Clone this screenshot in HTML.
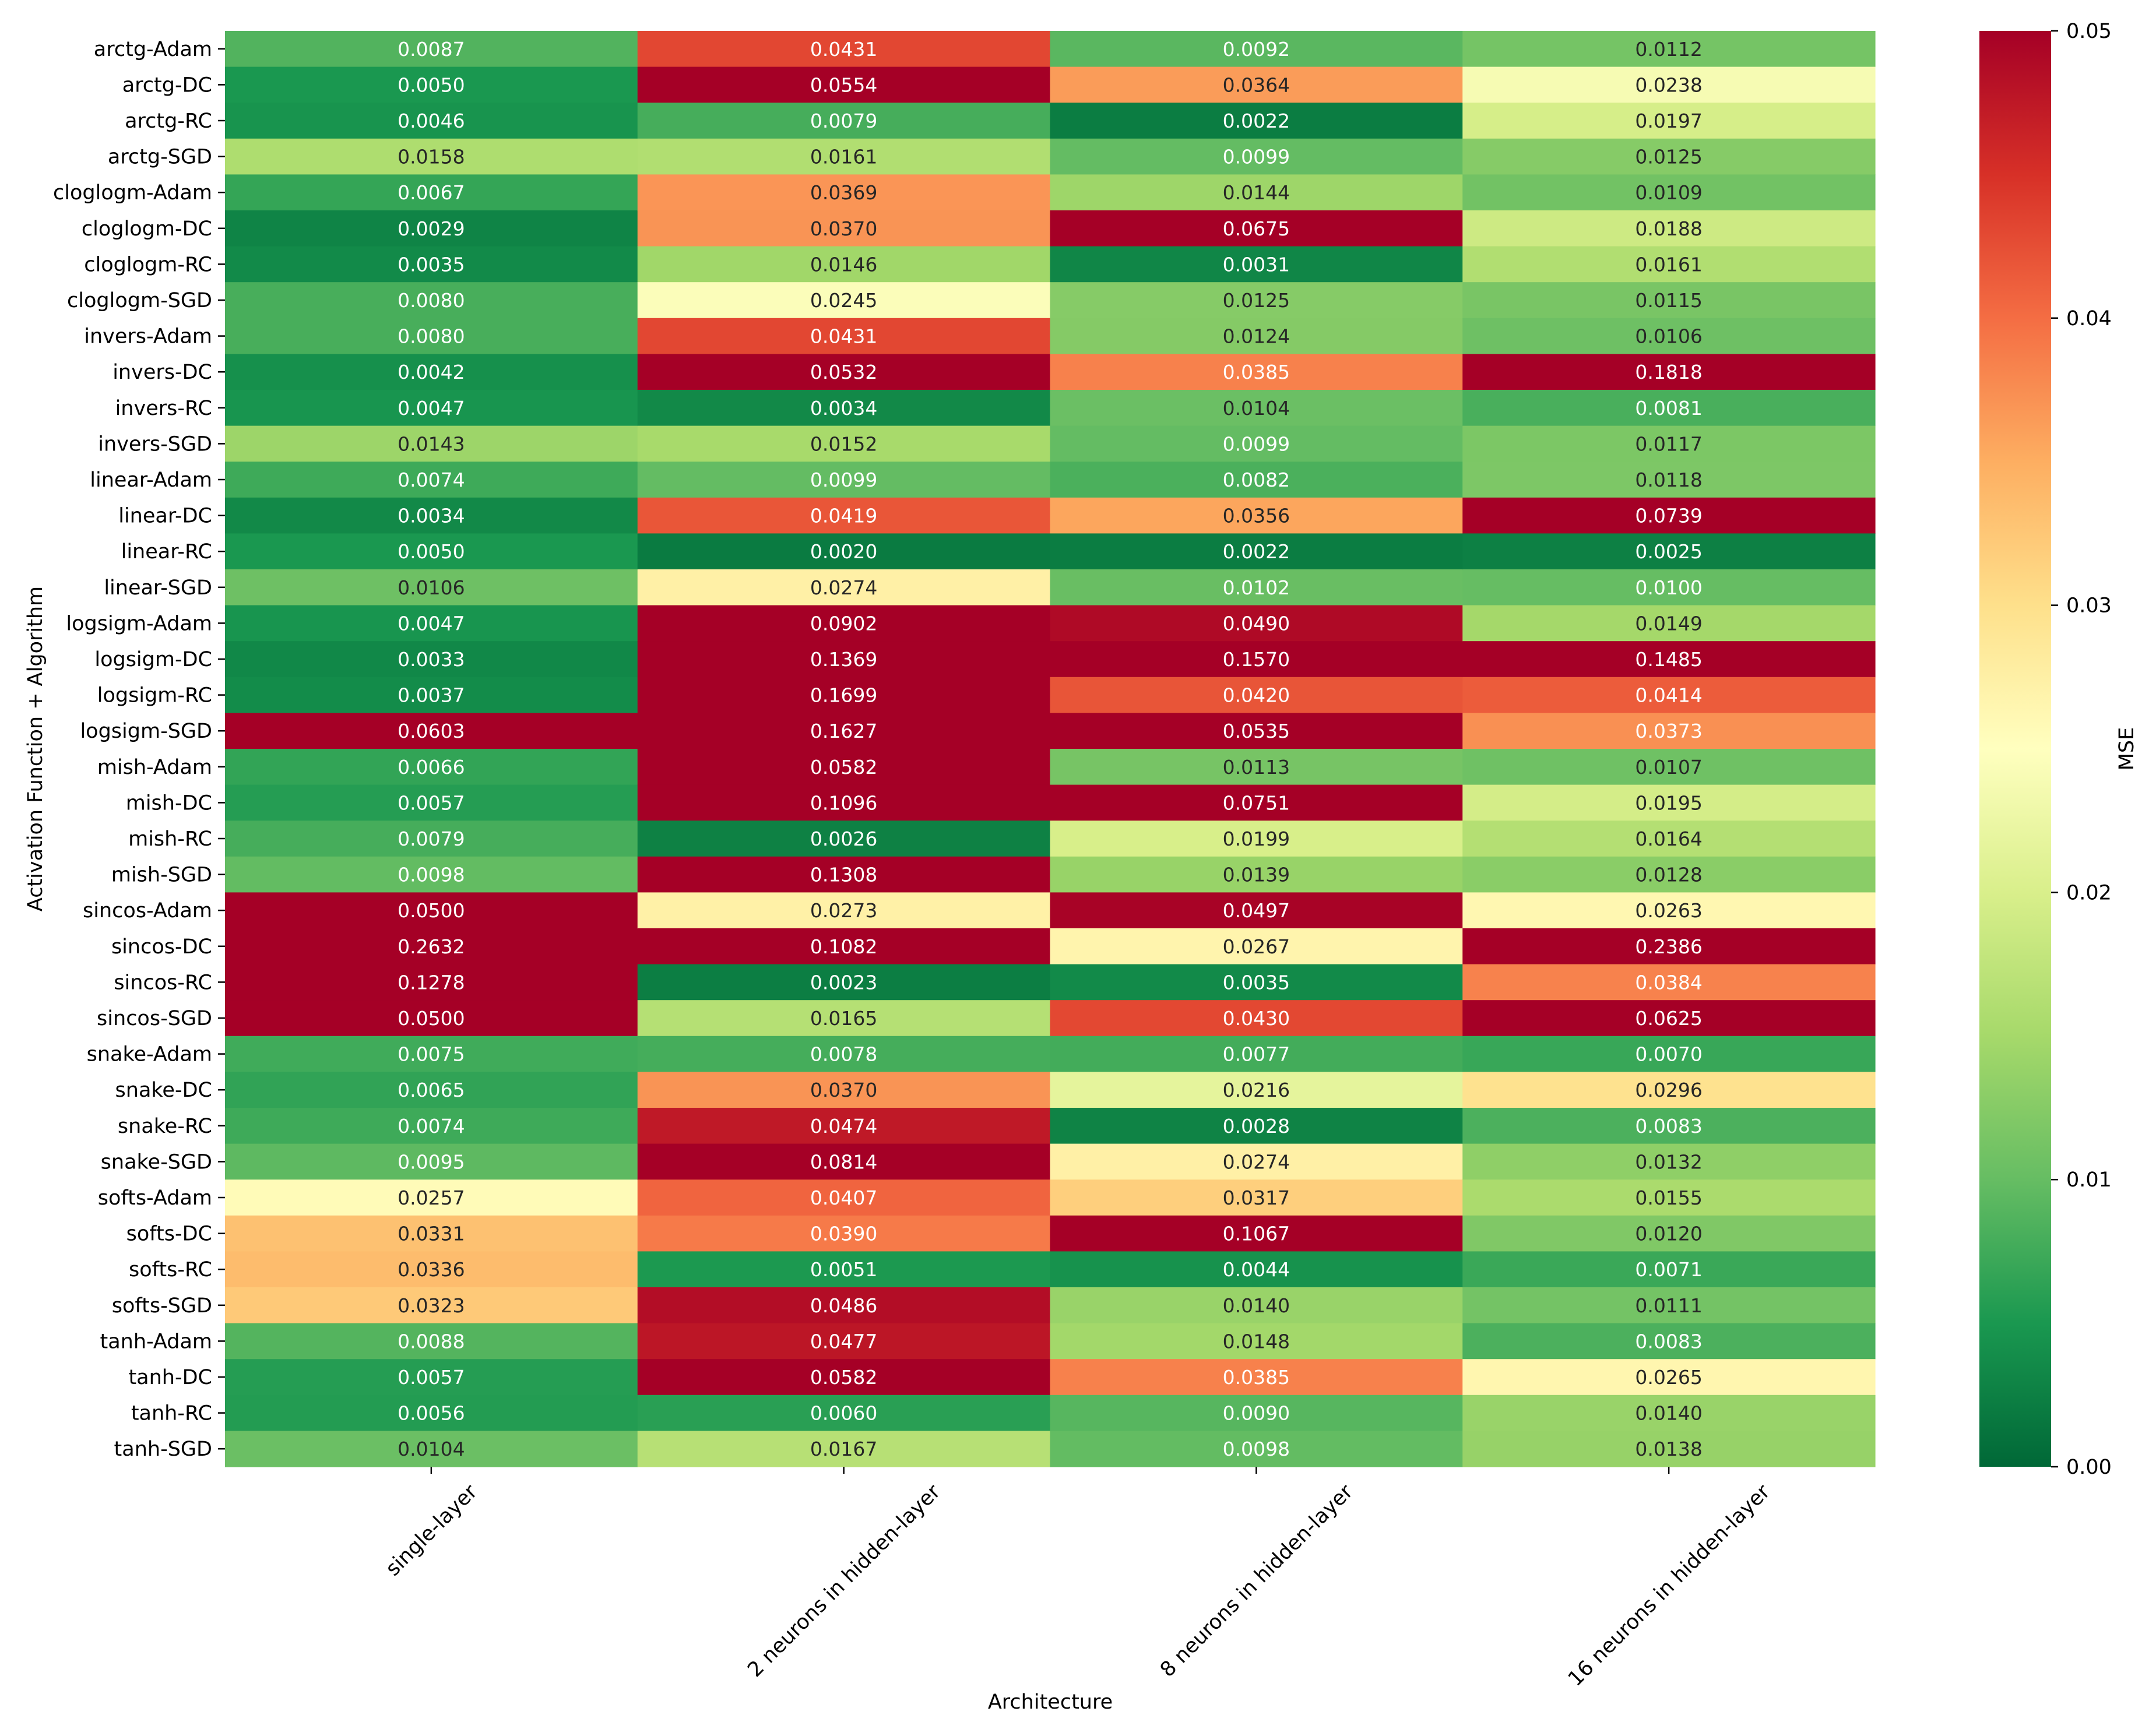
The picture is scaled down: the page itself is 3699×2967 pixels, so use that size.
<!DOCTYPE html>
<html><head><meta charset="utf-8"><style>
html,body{margin:0;padding:0;background:#fff;}
svg{display:block;font-family:"DejaVu Sans","Liberation Sans",sans-serif;}
</style></head><body>
<svg id="chart" width="3699" height="2967" viewBox="0 0 3699 2967" xmlns="http://www.w3.org/2000/svg">
<defs>
<linearGradient id="cbgrad" x1="0" y1="1" x2="0" y2="0">
<stop offset="0" stop-color="#006837"/><stop offset="0.1" stop-color="#1a9850"/><stop offset="0.2" stop-color="#66bd63"/><stop offset="0.3" stop-color="#a6d96a"/><stop offset="0.4" stop-color="#d9ef8b"/><stop offset="0.5" stop-color="#ffffbf"/><stop offset="0.6" stop-color="#fee08b"/><stop offset="0.7" stop-color="#fdae61"/><stop offset="0.8" stop-color="#f46d43"/><stop offset="0.9" stop-color="#d73027"/><stop offset="1" stop-color="#a50026"/>
</linearGradient>
</defs>
<g id="cells"></g>
<g id="yaxis"></g>
<g id="xaxis"></g>
<g id="cbar"></g>
<text x="0" y="0" font-size="35" text-anchor="middle" transform="translate(72,1285) rotate(-90)">Activation Function + Algorithm</text>
<text x="1802" y="2932" font-size="35" text-anchor="middle">Architecture</text>
<text x="0" y="0" font-size="35" text-anchor="middle" transform="translate(3660,1285) rotate(-90)">MSE</text>
</svg>
<script>
const rowLabels = ["arctg-Adam","arctg-DC","arctg-RC","arctg-SGD","cloglogm-Adam","cloglogm-DC","cloglogm-RC","cloglogm-SGD","invers-Adam","invers-DC","invers-RC","invers-SGD","linear-Adam","linear-DC","linear-RC","linear-SGD","logsigm-Adam","logsigm-DC","logsigm-RC","logsigm-SGD","mish-Adam","mish-DC","mish-RC","mish-SGD","sincos-Adam","sincos-DC","sincos-RC","sincos-SGD","snake-Adam","snake-DC","snake-RC","snake-SGD","softs-Adam","softs-DC","softs-RC","softs-SGD","tanh-Adam","tanh-DC","tanh-RC","tanh-SGD"];
const colLabels = ["single-layer","2 neurons in hidden-layer","8 neurons in hidden-layer","16 neurons in hidden-layer"];
const singleLayer = [0.0087,0.0050,0.0046,0.0158,0.0067,0.0029,0.0035,0.0080,0.0080,0.0042,0.0047,0.0143,0.0074,0.0034,0.0050,0.0106,0.0047,0.0033,0.0037,0.0603,0.0066,0.0057,0.0079,0.0098,0.0500,0.2632,0.1278,0.0500,0.0075,0.0065,0.0074,0.0095,0.0257,0.0331,0.0336,0.0323,0.0088,0.0057,0.0056,0.0104];
const twoNeurons = [0.0431,0.0554,0.0079,0.0161,0.0369,0.0370,0.0146,0.0245,0.0431,0.0532,0.0034,0.0152,0.0099,0.0419,0.0020,0.0274,0.0902,0.1369,0.1699,0.1627,0.0582,0.1096,0.0026,0.1308,0.0273,0.1082,0.0023,0.0165,0.0078,0.0370,0.0474,0.0814,0.0407,0.0390,0.0051,0.0486,0.0477,0.0582,0.0060,0.0167];
const eightNeurons = [0.0092,0.0364,0.0022,0.0099,0.0144,0.0675,0.0031,0.0125,0.0124,0.0385,0.0104,0.0099,0.0082,0.0356,0.0022,0.0102,0.0490,0.1570,0.0420,0.0535,0.0113,0.0751,0.0199,0.0139,0.0497,0.0267,0.0035,0.0430,0.0077,0.0216,0.0028,0.0274,0.0317,0.1067,0.0044,0.0140,0.0148,0.0385,0.0090,0.0098];
const sixteenNeurons = [0.0112,0.0238,0.0197,0.0125,0.0109,0.0188,0.0161,0.0115,0.0106,0.1818,0.0081,0.0117,0.0118,0.0739,0.0025,0.0100,0.0149,0.1485,0.0414,0.0373,0.0107,0.0195,0.0164,0.0128,0.0263,0.2386,0.0384,0.0625,0.0070,0.0296,0.0083,0.0132,0.0155,0.0120,0.0071,0.0111,0.0083,0.0265,0.0140,0.0138];
const cbTicks = [0,0.01,0.02,0.03,0.04,0.05];
const cbTickLabels = ["0.00","0.01","0.02","0.03","0.04","0.05"];

const NS="http://www.w3.org/2000/svg";
const L=386,R=3217,T=53,B=2517,VMIN=0,VMAX=0.05;
const series=[singleLayer,twoNeurons,eightNeurons,sixteenNeurons];
const cw=(R-L)/colLabels.length, rh=(B-T)/rowLabels.length;
const xPos=i=>L+i*cw, yPos=j=>T+j*rh;
const cbL=3396,cbR=3519;
const cbY=v=>B-(v-VMIN)/(VMAX-VMIN)*(B-T);
const anchors=["#006837","#1a9850","#66bd63","#a6d96a","#d9ef8b","#ffffbf","#fee08b","#fdae61","#f46d43","#d73027","#a50026"].map(h=>[1,3,5].map(k=>parseInt(h.substr(k,2),16)));
function cmap(v){let t=(v-VMIN)/(VMAX-VMIN);t=Math.max(0,Math.min(1,t));const p=t*10,i=Math.min(9,Math.floor(p)),f=p-i;return anchors[i].map((c,k)=>c+(anchors[i+1][k]-c)*f);}
function lum(c){const l=c.map(x=>{x/=255;return x<=0.03928?x/12.92:Math.pow((x+0.055)/1.055,2.4)});return 0.2126*l[0]+0.7152*l[1]+0.0722*l[2];}
function mk(tag,attrs,parent){const e=document.createElementNS(NS,tag);for(const k in attrs)e.setAttribute(k,attrs[k]);parent.appendChild(e);return e;}
const cells=document.getElementById('cells');
series.forEach((arr,i)=>{arr.forEach((v,j)=>{
  const c=cmap(v);
  const r=mk('rect',{x:xPos(i),y:yPos(j),width:cw+0.6,height:rh+0.6,fill:`rgb(${c.map(Math.round).join(',')})`},cells);
  
  
  const t=mk('text',{x:xPos(i)+cw/2,y:yPos(j)+rh/2+12,'font-size':33,'text-anchor':'middle',fill:lum(c)>0.408?'#262626':'#ffffff'},cells);
  
  
  t.textContent=v.toFixed(4);
});});
const ya=document.getElementById('yaxis');
rowLabels.forEach((lab,j)=>{
  const y=yPos(j)+rh/2;
  const tk=mk('line',{x1:L-12,x2:L,y1:y,y2:y,stroke:'#000','stroke-width':2.5},ya);
  
  
  const t=mk('text',{x:L-22,y:y+12,'font-size':35,'text-anchor':'end',fill:'#000'},ya);
  
  
  t.textContent=lab;
});
const xa=document.getElementById('xaxis');
colLabels.forEach((lab,i)=>{
  const x=xPos(i)+cw/2;
  const tk=mk('line',{x1:x,x2:x,y1:B,y2:B+12,stroke:'#000','stroke-width':2.5},xa);
  
  
  const t=mk('text',{x:0,y:12,'font-size':35,'text-anchor':'middle',fill:'#000'},xa);
  
  
  t.textContent=lab;
  const w=t.getComputedTextLength();
  const h=(w+35)*0.7071;
  t.setAttribute('transform',`translate(${x},${B+24+h/2}) rotate(-45)`);
});
const cb=document.getElementById('cbar');
const cr=mk('rect',{x:cbL,y:T,width:cbR-cbL,height:B-T,fill:'url(#cbgrad)'},cb);


cbTicks.forEach((v,k)=>{
  const y=cbY(v);
  const tk=mk('line',{x1:cbR,x2:cbR+12,y1:y,y2:y,stroke:'#000','stroke-width':2.5},cb);
  
  
  const t=mk('text',{x:cbR+26,y:y+12,'font-size':35,fill:'#000'},cb);
  
  
  t.textContent=cbTickLabels[k];
});
</script>
</body></html>
